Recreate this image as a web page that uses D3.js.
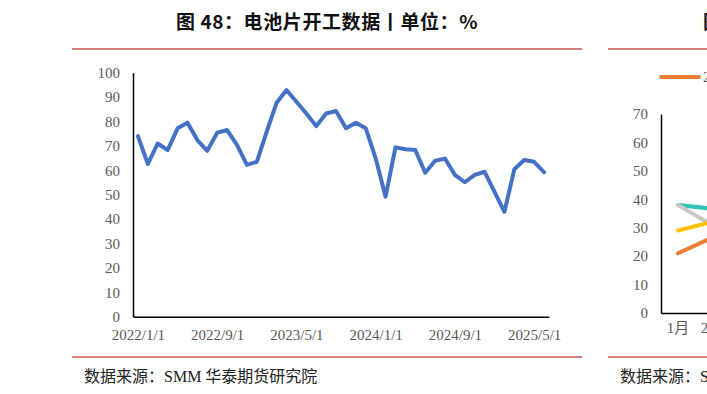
<!DOCTYPE html>
<html>
<head>
<meta charset="utf-8">
<script src="https://cdn.jsdelivr.net/npm/d3@7"></script>
<style>
  html, body { margin: 0; padding: 0; background: #fff; }
  svg { display: block; }
  .tick text { font-family: "Liberation Serif", "Times New Roman", serif; fill: #595959; }
</style>
</head>
<body>
<svg id="chart" width="707" height="394"></svg>
<script>
// Left chart: monthly cell utilisation (%)
const months = [
  '2022/1/1','2022/2/1','2022/3/1','2022/4/1','2022/5/1','2022/6/1','2022/7/1','2022/8/1','2022/9/1','2022/10/1','2022/11/1','2022/12/1',
  '2023/1/1','2023/2/1','2023/3/1','2023/4/1','2023/5/1','2023/6/1','2023/7/1','2023/8/1','2023/9/1','2023/10/1','2023/11/1','2023/12/1',
  '2024/1/1','2024/2/1','2024/3/1','2024/4/1','2024/5/1','2024/6/1','2024/7/1','2024/8/1','2024/9/1','2024/10/1','2024/11/1','2024/12/1',
  '2025/1/1','2025/2/1','2025/3/1','2025/4/1','2025/5/1','2025/6/1'
];
const utilisation = [
  74.0, 62.6, 71.0, 68.3, 77.2, 79.5, 72.4, 68.0, 75.4, 76.5, 70.4, 62.2,
  63.5, 75.8, 87.7, 92.9, 88.1, 83.3, 78.1, 83.3, 84.3, 77.2, 79.5, 77.2,
  64.9, 49.2, 69.4, 68.6, 68.3, 59.0, 63.9, 64.8, 58.1, 55.1, 58.1, 59.4,
  51.2, 43.0, 60.4, 64.2, 63.5, 59.2
];
const xTicks = ['2022/1/1', '2022/9/1', '2023/5/1', '2024/1/1', '2024/9/1', '2025/5/1'];
const yTicks = [0, 10, 20, 30, 40, 50, 60, 70, 80, 90, 100];

// Right chart (cut off at the page edge)
const rightMonths = ['1月', '2月'];
const rightSeries = [
  { name: '2022年', color: '#2ec4b6', values: [38.0, 36.7] },
  { name: '2023年', color: '#c8c8c8', values: [38.0, 31.0] },
  { name: '2024年', color: '#ffc000', values: [29.0, 32.0] },
  { name: '2025年', color: '#ed7d31', values: [21.0, 26.5] }
];
const rightYTicks = [0, 10, 20, 30, 40, 50, 60, 70];

const svg = d3.select('#chart');
const cjk = '"Noto Sans CJK SC", sans-serif';
const redLine = '#cf7f7c';

// ---------- left chart ----------
svg.append('text')
  .attr('x', 327).attr('y', 29)
  .attr('text-anchor', 'middle')
  .style('font-family', cjk).style('font-weight', 700).style('font-size', '19px')
  .style('letter-spacing', '0.6px')
  .style('fill', '#111')
  .text('图 48：电池片开工数据丨单位：%');

svg.append('line').attr('x1', 72).attr('x2', 582).attr('y1', 49).attr('y2', 49)
  .attr('stroke', redLine).attr('stroke-width', 2);
svg.append('line').attr('x1', 72).attr('x2', 582).attr('y1', 357).attr('y2', 357)
  .attr('stroke', redLine).attr('stroke-width', 2);

const x = d3.scalePoint().domain(months).range([133, 549]).padding(0.5);
const y = d3.scaleLinear().domain([0, 100]).range([316.7, 72.7]);

const yAxis = svg.append('g')
  .attr('transform', 'translate(133,0)')
  .call(d3.axisLeft(y).tickValues(yTicks).tickSize(0).tickPadding(13));
yAxis.select('.domain').attr('stroke', '#000').attr('stroke-width', 1.5);
yAxis.selectAll('text').style('font-size', '15px');

const xAxis = svg.append('g')
  .attr('transform', 'translate(0,316.7)')
  .call(d3.axisBottom(x).tickValues(xTicks).tickSize(0).tickPadding(13));
xAxis.select('.domain').attr('stroke', '#000').attr('stroke-width', 1.5);
xAxis.selectAll('text').style('font-size', '15px');

const line = d3.line()
  .x((d, i) => x(months[i]))
  .y(d => y(d));

svg.append('path')
  .datum(utilisation)
  .attr('fill', 'none')
  .attr('stroke', '#4472c4')
  .attr('stroke-width', 4)
  .attr('stroke-linejoin', 'round')
  .attr('stroke-linecap', 'round')
  .attr('d', line);

svg.append('text')
  .attr('x', 84).attr('y', 382)
  .style('font-family', '"Liberation Serif", ' + cjk).style('font-size', '16px')
  .style('fill', '#222')
  .text('数据来源：SMM  华泰期货研究院');

// ---------- right chart (partially visible) ----------
svg.append('text')
  .attr('x', 703).attr('y', 29)
  .style('font-family', cjk).style('font-weight', 700).style('font-size', '19px')
  .style('fill', '#111')
  .text('图 49：');

svg.append('line').attr('x1', 608).attr('x2', 707).attr('y1', 49).attr('y2', 49)
  .attr('stroke', redLine).attr('stroke-width', 2);
svg.append('line').attr('x1', 608).attr('x2', 707).attr('y1', 357).attr('y2', 357)
  .attr('stroke', redLine).attr('stroke-width', 2);

// legend (only the first entry shows inside the page)
const legendItem = rightSeries[3];
svg.append('line').attr('x1', 661).attr('x2', 699).attr('y1', 77).attr('y2', 77)
  .attr('stroke', legendItem.color).attr('stroke-width', 4).attr('stroke-linecap', 'round');
svg.append('text').attr('x', 703).attr('y', 82)
  .style('font-family', '"Liberation Serif", serif').style('font-size', '15px').style('fill', '#595959')
  .text(legendItem.name);

const x2 = d3.scaleBand().domain(rightMonths).range([661, 729]);
const y2 = d3.scaleLinear().domain([0, 70]).range([313, 114]);

const y2Axis = svg.append('g')
  .attr('transform', 'translate(661,0)')
  .call(d3.axisLeft(y2).tickValues(rightYTicks).tickSize(0).tickPadding(13));
y2Axis.select('.domain').attr('stroke', '#000').attr('stroke-width', 1.5);
y2Axis.selectAll('text').style('font-size', '15px');

const x2Axis = svg.append('g')
  .attr('transform', 'translate(0,313)')
  .call(d3.axisBottom(x2).tickSize(0).tickPadding(9));
x2Axis.select('.domain').attr('stroke', '#000').attr('stroke-width', 1.5);
x2Axis.selectAll('text').style('font-size', '15px')
  .style('font-family', '"Liberation Serif", ' + cjk);

const line2 = d3.line()
  .x((d, i) => x2(rightMonths[i]) + x2.bandwidth() / 2)
  .y(d => y2(d));

svg.append('g').selectAll('path')
  .data(rightSeries)
  .join('path')
  .attr('fill', 'none')
  .attr('stroke', d => d.color)
  .attr('stroke-width', 4)
  .attr('stroke-linecap', 'round')
  .attr('d', d => line2(d.values));

svg.append('text')
  .attr('x', 620).attr('y', 382)
  .style('font-family', '"Liberation Serif", ' + cjk).style('font-size', '16px')
  .style('fill', '#222')
  .text('数据来源：SMM  华泰期货研究院');
</script>
</body>
</html>
